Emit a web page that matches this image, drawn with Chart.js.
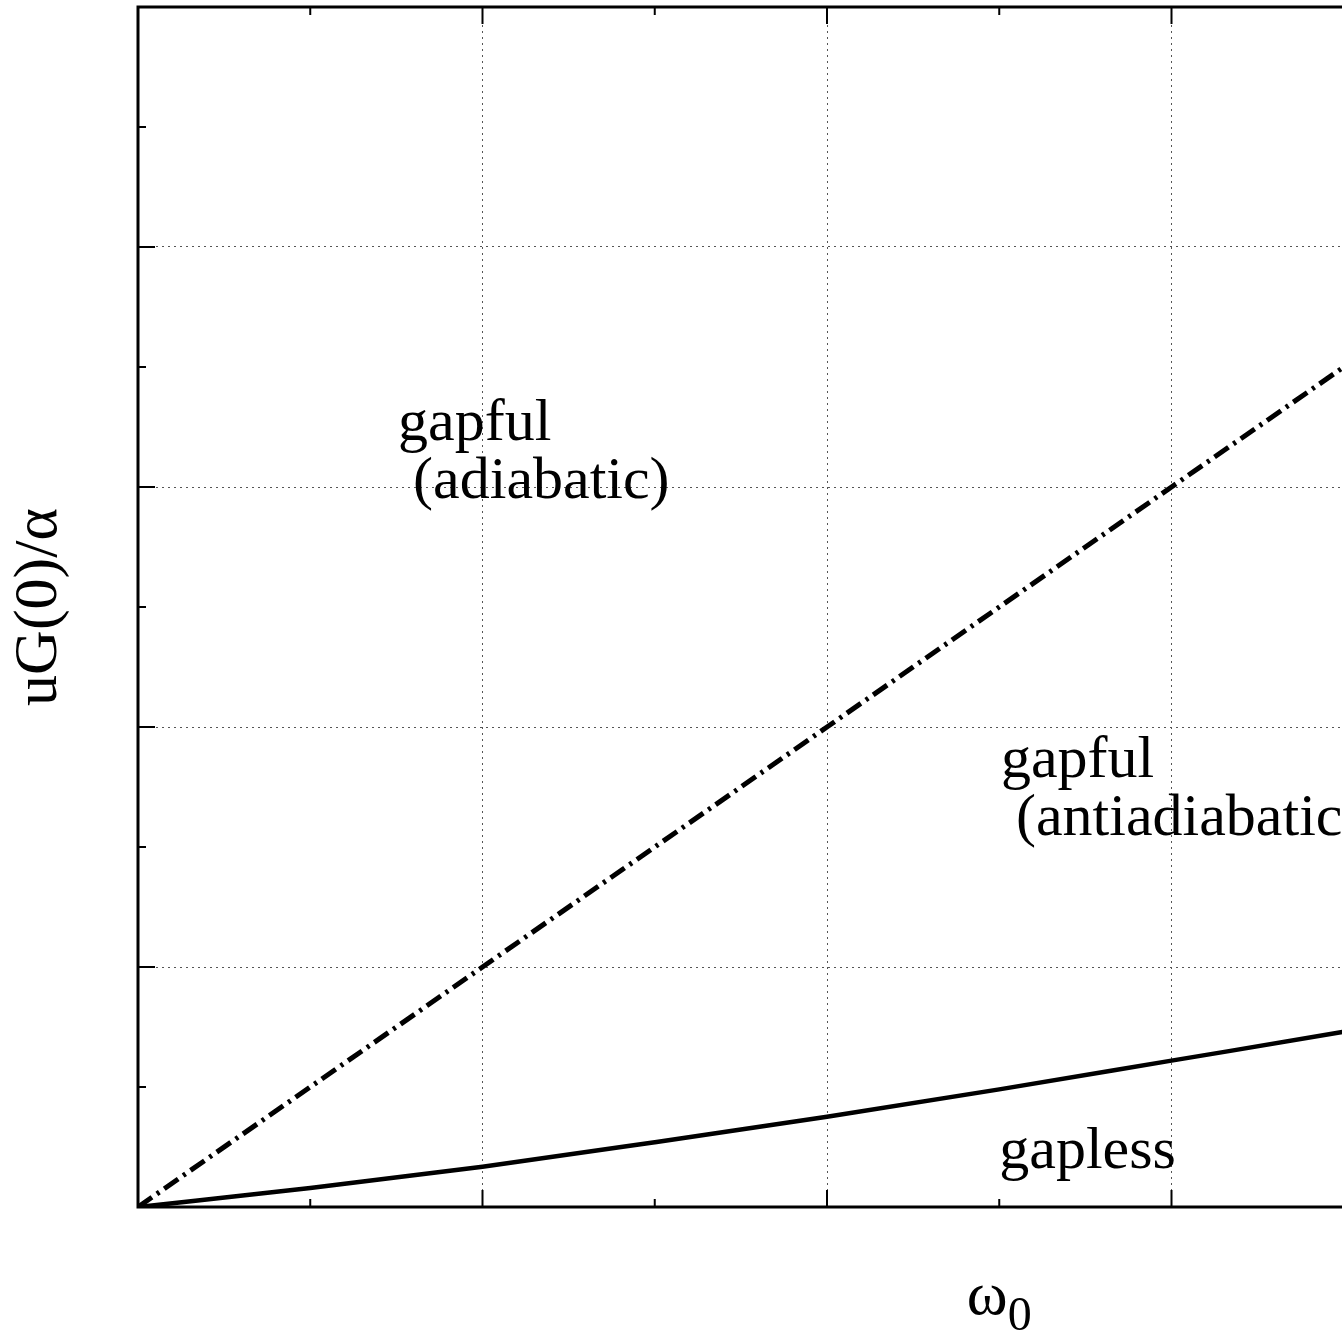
<!DOCTYPE html>
<html>
<head>
<meta charset="utf-8">
<script src="https://cdn.jsdelivr.net/npm/chart.js@4.4.0/dist/chart.umd.min.js"></script>
<style>
  html, body { margin: 0; padding: 0; background: #fff; overflow: hidden; }
  #wrap { width: 1342px; height: 1337px; overflow: hidden; }
  canvas { display: block; }
</style>
</head>
<body>
<div id="wrap"><canvas id="phase" width="1900" height="1337"></canvas></div>
<script>
// values (x: omega_0, y: uG(0)/alpha)
const omega0 = [0, 0.5, 1, 1.5, 2, 2.5, 3, 3.5, 4];
const gaplessEdge = [0, 0.079, 0.168, 0.27, 0.376, 0.49, 0.61, 0.73, 0.86];
const adiabaticX = [0, 1, 2, 3, 4, 5];
const adiabaticEdge = [0, 1, 2, 3, 4, 5];
const xMajor = [0, 1, 2, 3, 4, 5];
const yMajor = [0, 1, 2, 3, 4, 5];

const regionLabels = [
  { lines: ['gapful', ' (adiabatic)'], x: 0.755, y: 3.195 },
  { lines: ['gapful', ' (antiadiabatic)'], x: 2.505, y: 1.79 },
  { lines: ['gapless'], x: 2.5, y: 0.163 }
];

const SERIF = '"Liberation Serif", "Times New Roman", serif';

function pts(xs, ys) {
  return xs.map((v, i) => ({ x: v, y: ys[i] }));
}

// рамка, засічки всередину, підписи областей і осей
const decorPlugin = {
  id: 'decor',
  afterDatasetsDraw(chart) {
    const { ctx, scales: { x, y } } = chart;
    ctx.save();
    ctx.fillStyle = '#000';
    ctx.font = '60px ' + SERIF;
    ctx.textBaseline = 'alphabetic';
    ctx.textAlign = 'left';
    regionLabels.forEach(l => {
      const px = x.getPixelForValue(l.x);
      const py = y.getPixelForValue(l.y);
      l.lines.forEach((t, i) => ctx.fillText(t, px, py + i * 58));
    });
    ctx.restore();
  },
  afterDraw(chart) {
    const { ctx, chartArea: a, scales: { x, y } } = chart;
    ctx.save();
    ctx.strokeStyle = '#000';
    ctx.lineWidth = 2;
    const tick = (x1, y1, x2, y2) => {
      ctx.beginPath(); ctx.moveTo(x1, y1); ctx.lineTo(x2, y2); ctx.stroke();
    };
    xMajor.forEach((v, i) => {
      const px = x.getPixelForValue(v);
      tick(px, a.bottom, px, a.bottom - 17);
      tick(px, a.top, px, a.top + 17);
      if (i < xMajor.length - 1) {
        const pm = x.getPixelForValue((v + xMajor[i + 1]) / 2);
        tick(pm, a.bottom, pm, a.bottom - 8);
        tick(pm, a.top, pm, a.top + 8);
      }
    });
    yMajor.forEach((v, i) => {
      const py = y.getPixelForValue(v);
      tick(a.left, py, a.left + 17, py);
      tick(a.right, py, a.right - 17, py);
      if (i < yMajor.length - 1) {
        const pm = y.getPixelForValue((v + yMajor[i + 1]) / 2);
        tick(a.left, pm, a.left + 8, pm);
        tick(a.right, pm, a.right - 8, pm);
      }
    });
    ctx.lineWidth = 3;
    ctx.strokeRect(a.left, a.top, a.right - a.left, a.bottom - a.top);

    // y title
    ctx.fillStyle = '#000';
    ctx.font = '62px ' + SERIF;
    ctx.textBaseline = 'alphabetic';
    ctx.save();
    ctx.translate(a.left - 82, (a.top + a.bottom) / 2);
    ctx.rotate(-Math.PI / 2);
    ctx.textAlign = 'center';
    ctx.fillText('uG(0)/α', 0, 0);
    ctx.restore();

    // x title: ω with subscript 0
    ctx.textAlign = 'left';
    const main = 'ω', sub = '0';
    ctx.font = '62px ' + SERIF;
    const wMain = ctx.measureText(main).width;
    ctx.font = '48px ' + SERIF;
    const wSub = ctx.measureText(sub).width;
    const cx = (a.left + a.right) / 2;
    const left = cx - (wMain + wSub) / 2;
    const base = a.bottom + 107;
    ctx.font = '62px ' + SERIF;
    ctx.fillText(main, left, base);
    ctx.font = '48px ' + SERIF;
    ctx.fillText(sub, left + wMain, base + 16);
    ctx.restore();
  }
};

new Chart(document.getElementById('phase'), {
  type: 'line',
  data: {
    datasets: [
      {
        label: 'gapless',
        data: pts(omega0, gaplessEdge),
        borderColor: '#000',
        borderWidth: 4.5,
        pointRadius: 0,
        cubicInterpolationMode: 'monotone',
        fill: false
      },
      {
        label: 'adiabatic',
        data: pts(adiabaticX, adiabaticEdge),
        borderColor: '#000',
        borderWidth: 5,
        borderDash: [17, 6, 3, 6],
        borderCapStyle: 'butt',
        pointRadius: 0,
        fill: false
      }
    ]
  },
  options: {
    responsive: false,
    devicePixelRatio: 1,
    animation: false,
    layout: { padding: { left: 138, top: 7, right: 39.5, bottom: 130 } },
    plugins: { legend: { display: false }, tooltip: { enabled: false } },
    scales: {
      x: {
        type: 'linear',
        min: 0, max: 5,
        ticks: { display: false, stepSize: 1 },
        grid: { color: '#555', lineWidth: 1, drawTicks: false },
        border: { display: false, dash: [2, 4] }
      },
      y: {
        type: 'linear',
        min: 0, max: 5,
        ticks: { display: false, stepSize: 1 },
        grid: { color: '#555', lineWidth: 1, drawTicks: false },
        border: { display: false, dash: [2, 4] }
      }
    }
  },
  plugins: [decorPlugin]
});
</script>
</body>
</html>
